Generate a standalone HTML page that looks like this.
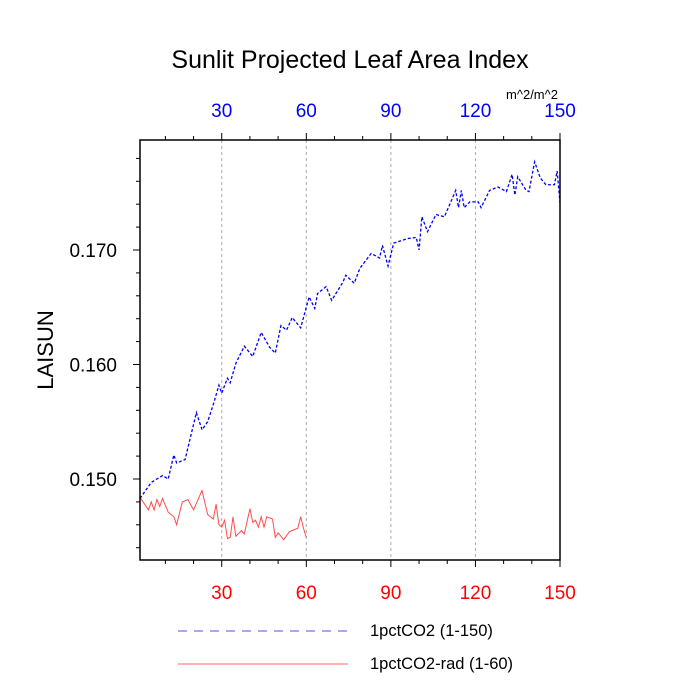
<!DOCTYPE html>
<html><head><meta charset="utf-8"><style>
body{margin:0;background:#fff;}
svg{display:block;font-family:"Liberation Sans",sans-serif;}
</style></head><body>
<svg id="chart" width="700" height="700"></svg>
<script>
const blueX=[1,5,9,11,13,14,17,21,23,25,27,29,30,32,33,35,38,41,44,47,49,51,53,55,58,61,63,64,67,69,73,74,77,79,83,86,87,89,91,96,99,100,101,103,106,109,113,114,115,116,118,121,122,125,128,131,133,134,135,138,139,141,143,145,148,149,150];
const blueY=[0.1483,0.1497,0.1503,0.1500,0.1521,0.1514,0.1517,0.1558,0.1543,0.1550,0.1565,0.1582,0.1575,0.1588,0.1584,0.1601,0.1616,0.1607,0.1628,0.1615,0.1610,0.1634,0.1630,0.1641,0.1632,0.1659,0.1649,0.1662,0.1668,0.1656,0.1672,0.1678,0.1671,0.1684,0.1697,0.1693,0.1704,0.1686,0.1706,0.1710,0.1711,0.1700,0.1729,0.1716,0.1731,0.1729,0.1752,0.1737,0.1752,0.1737,0.1742,0.1742,0.1737,0.1752,0.1755,0.1751,0.1766,0.1748,0.1764,0.1752,0.1751,0.1777,0.1763,0.1757,0.1757,0.1769,0.1741];
const redX=[1,4,5,6,7,8,9,11,13,14,16,18,20,23,25,27,28,29,30,31,32,33,34,35,37,38,40,41,42,43,44,45,46,48,49,50,52,54,57,58,59,60];
const redY=[0.1484,0.1473,0.1480,0.1473,0.1482,0.1476,0.1483,0.1471,0.1467,0.1460,0.1480,0.1482,0.1473,0.1490,0.1469,0.1465,0.1478,0.1460,0.1458,0.1464,0.1448,0.1449,0.1467,0.1450,0.1455,0.1452,0.1474,0.1462,0.1464,0.1458,0.1467,0.1458,0.1467,0.1465,0.1449,0.1453,0.1447,0.1454,0.1457,0.1467,0.1457,0.1449];
const xTicks=[30,60,90,120,150];
const yTicks=[0.150,0.160,0.170];
const yTickLabels=["0.150","0.160","0.170"];

const NS="http://www.w3.org/2000/svg";
const svg=document.getElementById('chart');
const L=140,R=560,T=140,B=560;
const sx=v=>L+(v-1)*(R-L)/149;
const sy=v=>250-(v-0.170)*11450;
function mk(tag,attrs,parent){const e=document.createElementNS(NS,tag);for(const k in attrs)e.setAttribute(k,attrs[k]);(parent||svg).appendChild(e);return e;}

xTicks.forEach(t=>{if(t<150){const g=mk('line',{x1:sx(t),x2:sx(t),y1:T,y2:B,stroke:'#aaa','stroke-dasharray':'3,3','stroke-width':1});

}});

let bp=mk('polyline',{points:blueX.map((x,i)=>sx(x)+','+sy(blueY[i])).join(' '),fill:'none',stroke:'#0000ff','stroke-width':1.3,'stroke-dasharray':'3,2'});


let rp=mk('polyline',{points:redX.map((x,i)=>sx(x)+','+sy(redY[i])).join(' '),fill:'none',stroke:'#ff0000','stroke-width':1,'stroke-opacity':0.7});



let fr=mk('rect',{x:L,y:T,width:R-L,height:B-T,fill:'none',stroke:'#000','stroke-width':1.5});



xTicks.forEach(t=>{
 mk('line',{x1:sx(t),x2:sx(t),y1:B,y2:B+7,stroke:'#000'});
 mk('line',{x1:sx(t),x2:sx(t),y1:T,y2:T-7,stroke:'#000'});
 const b=mk('text',{x:sx(t),y:599,'text-anchor':'middle','font-size':19,fill:'#ff0000'});b.textContent=t;
 
 
 const tp=mk('text',{x:sx(t),y:117,'text-anchor':'middle','font-size':19,fill:'#0000ff'});tp.textContent=t;
 
 
});
for(let t=10;t<150;t+=10){if(t%30){mk('line',{x1:sx(t),x2:sx(t),y1:B,y2:B+4,stroke:'#000'});mk('line',{x1:sx(t),x2:sx(t),y1:T,y2:T-4,stroke:'#000'});}}
yTicks.forEach((t,i)=>{
 mk('line',{x1:L-7,x2:L,y1:sy(t),y2:sy(t),stroke:'#000'});
 const l=mk('text',{x:117,y:sy(t)+7,'text-anchor':'end','font-size':19});l.textContent=yTickLabels[i];
 
 
});
for(let v=0.144;v<0.1795;v+=0.002){mk('line',{x1:L-4,x2:L,y1:sy(v),y2:sy(v),stroke:'#000'});}

let tt=mk('text',{x:350,y:68,'text-anchor':'middle','font-size':25});tt.textContent='Sunlit Projected Leaf Area Index';


let un=mk('text',{x:532,y:99,'text-anchor':'middle','font-size':13});un.textContent='m^2/m^2';


let yt=mk('text',{x:0,y:0,'text-anchor':'middle','font-size':22,transform:'translate(53,350) rotate(-90)'});yt.textContent='LAISUN';



let l1=mk('line',{x1:178,x2:348,y1:631,y2:631,stroke:'#0000ff','stroke-dasharray':'9,7','stroke-opacity':0.7});


let t1=mk('text',{x:370,y:636,'font-size':16.5});t1.textContent='1pctCO2 (1-150)';


let l2=mk('line',{x1:178,x2:348,y1:664,y2:664,stroke:'#ff0000','stroke-opacity':0.6});


let t2=mk('text',{x:370,y:669,'font-size':16.5});t2.textContent='1pctCO2-rad (1-60)';


</script>
</body></html>
